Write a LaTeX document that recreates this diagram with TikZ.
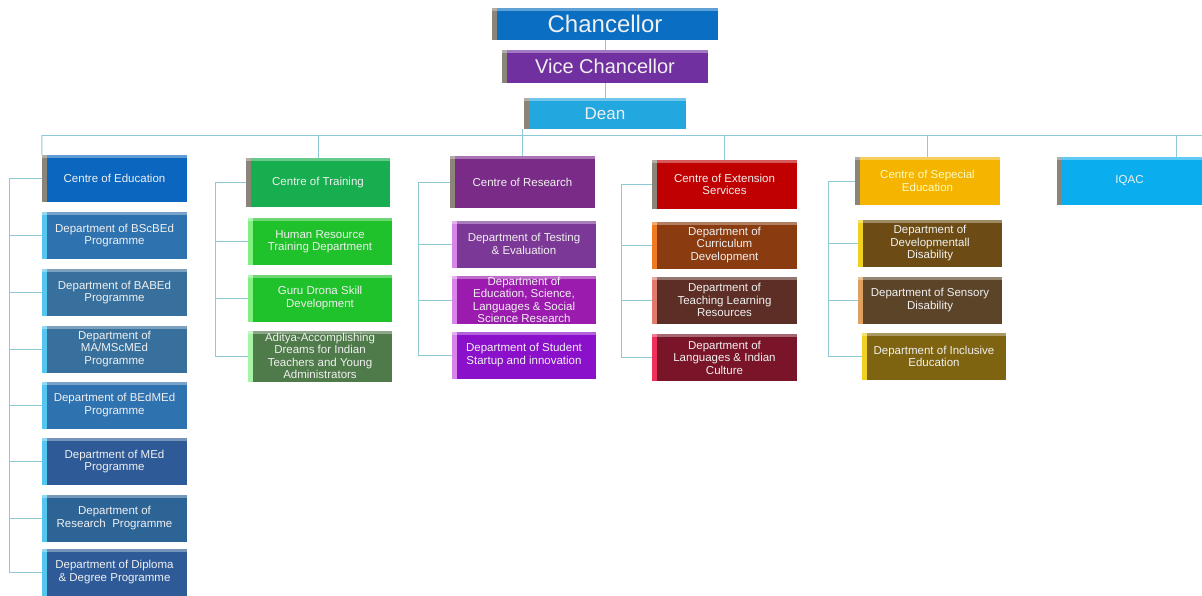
\documentclass[tikz,border=0pt]{standalone}
\usepackage{fontspec}
\setmainfont{Liberation Sans}
\usepackage{xcolor}
\definecolor{chancB}{HTML}{0A6EC2}
\definecolor{vcP}{HTML}{7030A0}
\definecolor{deanB}{HTML}{22A7DF}
\definecolor{linkC}{HTML}{8EC9D6}
\definecolor{bevG}{HTML}{8A8479}
\definecolor{edC}{HTML}{0B66BF}
\definecolor{edA}{HTML}{2F72B0}
\definecolor{edB}{HTML}{37709C}
\definecolor{edD}{HTML}{2E5A98}
\definecolor{edE}{HTML}{2D6496}
\definecolor{edL}{HTML}{55C6F0}
\definecolor{trC}{HTML}{16AE4E}
\definecolor{trA}{HTML}{1FC22A}
\definecolor{trL}{HTML}{80F080}
\definecolor{trD}{HTML}{4F7A4A}
\definecolor{rsC}{HTML}{7A2B88}
\definecolor{rsA}{HTML}{7B3897}
\definecolor{rsB}{HTML}{9A1BAE}
\definecolor{rsD}{HTML}{8A10CA}
\definecolor{rsL}{HTML}{D884E8}
\definecolor{exC}{HTML}{C00000}
\definecolor{exA}{HTML}{8A3B10}
\definecolor{exB}{HTML}{5C2E26}
\definecolor{exD}{HTML}{7A1529}
\definecolor{exLA}{HTML}{F07A20}
\definecolor{exLB}{HTML}{E07A6C}
\definecolor{exLD}{HTML}{F0305A}
\definecolor{spC}{HTML}{F4B400}
\definecolor{spA}{HTML}{6C4C14}
\definecolor{spB}{HTML}{5C4428}
\definecolor{spD}{HTML}{7E6310}
\definecolor{spLA}{HTML}{F0D020}
\definecolor{spLB}{HTML}{E0A060}
\definecolor{iqC}{HTML}{0AAEEF}
\tikzset{%
  lvl/.style={fill=#1, text=white!94!black, align=center, inner sep=1pt,
    font=\fontsize{11.5}{12.5}\selectfont, minimum width=145pt, minimum height=47pt},
  bev/.style={path picture={
    \fill[#1] (path picture bounding box.south west) rectangle ([xshift=5pt]path picture bounding box.north west);
    \fill[white,opacity=.35] (path picture bounding box.north west) rectangle ([yshift=-3pt]path picture bounding box.north east);}},
  link/.style={linkC, line width=1pt}
}

\begin{document}
\begin{tikzpicture}[x=1pt,y=-1pt]
\fill[white] (0,0) rectangle (1202,595);
\useasboundingbox (0,0) rectangle (1202,595);
% top
\node[lvl=chancB, bev=bevG, minimum width=226pt, minimum height=32pt, font=\fontsize{24}{26}\selectfont] (chanc) at (605,24) {Chancellor};
\node[lvl=vcP, bev=bevG, minimum width=206pt, minimum height=33pt, font=\fontsize{20}{22}\selectfont] (vc) at (605,66.5) {Vice Chancellor};
\node[lvl=deanB, bev=bevG, minimum width=162pt, minimum height=31pt, font=\fontsize{17}{19}\selectfont] (dean) at (605,113.5) {Dean};
\coordinate (busL) at (42,135);
\coordinate (busR) at (1202,135);
% centres
\node[lvl=edC, bev=bevG] (ced) at (114.5,178.5) {Centre of Education};
\node[lvl=trC, bev=bevG, minimum width=144pt, minimum height=49pt] (ctr) at (318,182.5) {Centre of Training};
\node[lvl=rsC, bev=bevG, minimum height=52pt] (cres) at (522.5,182) {Centre of Research};
\node[lvl=exC, bev=bevG, minimum height=49pt] (cext) at (724.5,184.5) {Centre of Extension\\Services};
\node[lvl=spC, bev=bevG, minimum height=48pt, text=yellow!25] (cspe) at (927.5,181) {Centre of Sepecial\\Education};
\node[lvl=iqC, bev=bevG, minimum height=48pt] (iqac) at (1129.5,181) {IQAC};
% education
\node[lvl=edA, bev=edL] (ed1) at (114.5,235.5) {Department of BScBEd\\Programme};
\node[lvl=edB, bev=edL] (ed2) at (114.5,292.5) {Department of BABEd\\Programme};
\node[lvl=edB, bev=edL] (ed3) at (114.5,349) {Department of\\MA/MScMEd\\Programme};
\node[lvl=edA, bev=edL] (ed4) at (114.5,405) {Department of BEdMEd\\Programme};
\node[lvl=edD, bev=edL] (ed5) at (114.5,461.5) {Department of MEd\\Programme};
\node[lvl=edE, bev=edL] (ed6) at (114.5,518) {Department of\\Research\ \ Programme};
\node[lvl=edD, bev=edL] (ed7) at (114.5,572) {Department of Diploma\\\& Degree Programme};
% training
\node[lvl=trA, bev=trL, minimum width=144pt] (tr1) at (320,241.5) {Human Resource\\Training Department};
\node[lvl=trA, bev=trL, minimum width=144pt] (tr2) at (320,298) {Guru Drona Skill\\Development};
\node[lvl=trD, bev=trL!70!white, minimum width=144pt, minimum height=51pt] (tr3) at (320,356) {Aditya-Accomplishing\\Dreams for Indian\\Teachers and Young\\Administrators};
% research
\node[lvl=rsA, bev=rsL, minimum width=144pt] (rs1) at (524,244) {Department of Testing\\\& Evaluation};
\node[lvl=rsB, bev=rsL, minimum width=144pt] (rs2) at (524,300) {Department of\\Education, Science,\\Languages \& Social\\Science Research};
\node[lvl=rsD, bev=rsL, minimum width=144pt] (rs3) at (524,355) {Department of Student\\Startup and innovation};
% extension
\node[lvl=exA, bev=exLA] (ex1) at (724.5,245) {Department of\\Curriculum\\Development};
\node[lvl=exB, bev=exLB] (ex2) at (724.5,300) {Department of\\Teaching Learning\\Resources};
\node[lvl=exD, bev=exLD] (ex3) at (724.5,357.5) {Department of\\Languages \& Indian\\Culture};
% special education
\node[lvl=spA, bev=spLA, minimum width=144pt] (sp1) at (930,243.5) {Department of\\Developmentall\\Disability};
\node[lvl=spB, bev=spLB, minimum width=144pt] (sp2) at (930,300) {Department of Sensory\\Disability};
\node[lvl=spD, bev=spLA, minimum width=144pt] (sp3) at (934,356.5) {Department of Inclusive\\Education};
% connectors
\draw[link] (chanc) -- (vc);
\draw[link] (vc) -- (dean);
\draw[link] (busL) -- (busR);
\draw[link] (dean.south -| cres.north) -- (cres.north);
\draw[link] (busL) -- (ced.north west);
\foreach \c in {ctr,cext,cspe} \draw[link] (\c.north) -- (\c.north |- busL);
\draw[link] ([xshift=47pt]iqac.north) -- ([xshift=47pt]iqac.north |- busL);
\foreach \d in {ed1,ed2,ed3,ed4,ed5,ed6,ed7} \draw[link] (ced.west) -- ++(-32,0) |- (\d.west);
\foreach \d in {tr1,tr2,tr3} \draw[link] (ctr.west) -- ++(-30,0) |- (\d.west);
\foreach \d in {rs1,rs2,rs3} \draw[link] (cres.west) -- ++(-31,0) |- (\d.west);
\foreach \d in {ex1,ex2,ex3} \draw[link] (cext.west) -- ++(-30,0) |- (\d.west);
\foreach \d in {sp1,sp2,sp3} \draw[link] (cspe.west) -- ++(-26,0) |- (\d.west);
\end{tikzpicture}
\end{document}
